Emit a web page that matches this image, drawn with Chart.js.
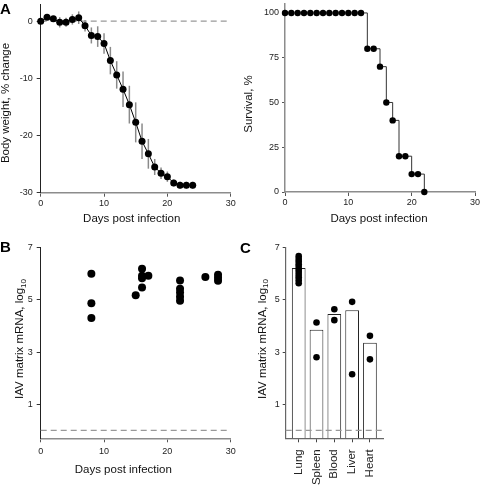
<!DOCTYPE html>
<html>
<head>
<meta charset="utf-8">
<script src="https://cdn.jsdelivr.net/npm/chart.js@4"></script>
<style>
  body { margin: 0; background: #fff; }
  #wrap { position: relative; width: 480px; height: 487px; }
  canvas { position: absolute; left: 0; top: 0; }
  .tag { position: absolute; font: bold 15px "Liberation Sans", Arial, sans-serif; line-height: 15px; color: #000; }
</style>
</head>
<body>
<div id="wrap">
  <canvas id="cA" width="480" height="487"></canvas>
  <canvas id="cS" width="480" height="487"></canvas>
  <canvas id="cB" width="480" height="487"></canvas>
  <canvas id="cC" width="480" height="487"></canvas>
  <div class="tag" style="left:0px;top:1px">A</div>
  <div class="tag" style="left:0px;top:238.5px">B</div>
  <div class="tag" style="left:240px;top:239.5px">C</div>
</div>
<script>
// panel A, body weight
const days = [0, 1, 2, 3, 4, 5, 6, 7, 8, 9, 10, 11, 12, 13, 14, 15, 16, 17, 18, 19, 20, 21, 22, 23, 24];
const weightMean = [0, 0.7, 0.4, -0.2, -0.2, 0.3, 0.6, -0.8, -2.5, -2.7, -3.9, -6.9, -9.4, -11.9, -14.6, -17.7, -21.0, -23.2, -25.5, -26.6, -27.2, -28.3, -28.7, -28.7, -28.7];
const weightSD = [0.2, 0.3, 0.5, 0.9, 0.8, 0.9, 1.1, 1.0, 1.4, 1.8, 1.8, 2.4, 2.4, 3.1, 3.3, 3.5, 3.1, 2.6, 1.4, 1.0, 0.9, 0.6, 0.6, 0.6, 0.6];
const weightTicks = [-30, -20, -10, 0];

// panel A, survival
const survivalDays = [0, 1, 2, 3, 4, 5, 6, 7, 8, 9, 10, 11, 12, 13, 14, 15, 16, 17, 18, 19, 20, 21, 22];
const survivalPct = [100, 100, 100, 100, 100, 100, 100, 100, 100, 100, 100, 100, 100, 80, 80, 70, 50, 40, 20, 20, 10, 10, 0];
const survivalTicks = [0, 25, 50, 75, 100];

const dayTicks = [0, 10, 20, 30];

// panel B, lung mRNA by day
const mrnaDays = [8, 8, 8, 15, 16, 16, 16, 16, 17, 22, 22, 22, 22, 22, 26, 28, 28, 28];
const mrnaValues = [6.0, 4.87, 4.3, 5.17, 6.19, 5.92, 5.82, 5.47, 5.92, 5.74, 5.42, 5.28, 5.12, 4.96, 5.87, 5.96, 5.84, 5.73];
const mrnaTicks = [1, 3, 5, 7];
const detectionLimit = 0;

// panel C, tissues
const tissues = ['Lung', 'Spleen', 'Blood', 'Liver', 'Heart'];
const tissueMeans = [6.22, 3.85, 4.46, 4.6, 3.36];
const lungSamples = [6.67, 6.56, 6.46, 6.36, 6.26, 6.16, 6.06, 5.96, 5.86, 5.75, 5.63];
const spleenSamples = [4.13, 2.8];
const bloodSamples = [4.64, 4.22];
const liverSamples = [4.92, 2.15];
const heartSamples = [3.62, 2.72];

const family = '"Liberation Sans", Arial, sans-serif';
const titleFont = '11.5px ' + family;
const subFont = '8px ' + family;
const Y_W = 30;

const axisTitles = {
  id: 'axisTitles',
  afterDraw(chart, args, opts) {
    const ctx = chart.ctx;
    ctx.save();
    ctx.fillStyle = '#111';
    ctx.textBaseline = 'middle';
    if (opts.x) {
      ctx.font = titleFont;
      ctx.textAlign = 'center';
      ctx.fillText(opts.x.text, opts.x.cx, opts.x.cy);
    }
    if (opts.y) {
      ctx.translate(opts.y.cx, opts.y.cy);
      ctx.rotate(-Math.PI / 2);
      ctx.font = titleFont;
      const w1 = ctx.measureText(opts.y.text).width;
      let w2 = 0;
      if (opts.y.sub) { ctx.font = subFont; w2 = ctx.measureText(opts.y.sub).width; }
      ctx.textAlign = 'left';
      ctx.font = titleFont;
      ctx.fillText(opts.y.text, -(w1 + w2) / 2, 0);
      if (opts.y.sub) {
        ctx.font = subFont;
        ctx.fillText(opts.y.sub, -(w1 + w2) / 2 + w1, 3.5);
      }
    }
    ctx.restore();
  }
};

const errorBars = {
  id: 'errorBars',
  beforeDatasetsDraw(chart) {
    const { ctx, scales: { x, y } } = chart;
    ctx.save();
    ctx.strokeStyle = '#8a8a8a';
    ctx.lineWidth = 1.5;
    days.forEach((d, i) => {
      const px = x.getPixelForValue(d);
      ctx.beginPath();
      ctx.moveTo(px, y.getPixelForValue(weightMean[i] - weightSD[i]));
      ctx.lineTo(px, y.getPixelForValue(weightMean[i] + weightSD[i]));
      ctx.stroke();
    });
    ctx.restore();
  }
};

function axis(o) {
  const ticks = { padding: o.padding, color: '#222', font: { family, size: o.fontSize || 9 },
    maxRotation: o.rotation || 0, minRotation: o.rotation || 0, autoSkip: false };
  if (o.callback) ticks.callback = o.callback;
  return {
    type: 'linear', min: o.min, max: o.max, offset: false,
    afterBuildTicks: s => { s.ticks = o.ticks.map(v => ({ value: v })); },
    afterFit: s => {
      if (s.isHorizontal()) s.height = o.boxH || 20; else s.width = Y_W;
      s.paddingTop = s.paddingBottom = s.paddingLeft = s.paddingRight = 0;
    },
    grid: { display: true, offset: false, drawOnChartArea: false, drawTicks: true, tickLength: o.tickLength, tickColor: o.tickColor || '#333', tickWidth: 1 },
    border: { display: true, color: o.color, width: o.width },
    ticks
  };
}

function pad(left, right, top, bottom, boxH) {
  return { left: left - Y_W, right: 480 - right, top: top, bottom: 487 - bottom - (boxH || 20) };
}

const common = {
  responsive: false,
  animation: false,
  events: [],
};

function dashed(x0, x1) {
  return {
    type: 'line',
    data: [{ x: x0, y: detectionLimit }, { x: x1, y: detectionLimit }],
    borderColor: '#999', borderWidth: 1.3, borderDash: [6, 4],
    pointRadius: 0, clip: false, order: 2
  };
}

// body weight
new Chart(document.getElementById('cA'), {
  type: 'line',
  data: {
    datasets: [
      {
        data: days.map((d, i) => ({ x: d, y: weightMean[i] })),
        borderColor: '#000', borderWidth: 1,
        pointRadius: 3.5, pointBackgroundColor: '#000', pointBorderWidth: 0,
        clip: false, order: 1
      },
      dashed(dayTicks[0], dayTicks[dayTicks.length - 1])
    ]
  },
  options: {
    ...common,
    layout: { padding: pad(40.7, 230.7, 2.4, 192.7) },
    plugins: {
      legend: { display: false }, tooltip: { enabled: false },
      axisTitles: { x: { text: 'Days post infection', cx: 131.7, cy: 219 },
                    y: { text: 'Body weight, % change', cx: 5.8, cy: 103 } }
    },
    scales: {
      x: axis({ min: 0, max: 30, ticks: dayTicks, tickLength: 4, padding: 1.3, color: '#8c8c8c', width: 1.5, tickColor: '#555' }),
      y: axis({ min: -30, max: 3, ticks: weightTicks, tickLength: 4, padding: 4, color: '#222', width: 1 })
    }
  },
  plugins: [errorBars, axisTitles]
});

// survival
new Chart(document.getElementById('cS'), {
  type: 'line',
  data: {
    datasets: [{
      data: survivalDays.map((d, i) => ({ x: d, y: survivalPct[i] })),
      borderColor: '#333', borderWidth: 1, stepped: 'before',
      pointRadius: 3.2, pointBackgroundColor: '#000', pointBorderWidth: 0,
      clip: false
    }]
  },
  options: {
    ...common,
    layout: { padding: pad(285, 475, 2.7, 192) },
    plugins: {
      legend: { display: false }, tooltip: { enabled: false },
      axisTitles: { x: { text: 'Days post infection', cx: 379, cy: 219 },
                    y: { text: 'Survival, %', cx: 249.2, cy: 104 } }
    },
    scales: {
      x: axis({ min: 0, max: 30, ticks: dayTicks, tickLength: 4, padding: 1, color: '#8c8c8c', width: 1.5, tickColor: '#555' }),
      y: axis({ min: 0, max: 105, ticks: survivalTicks, tickLength: 3, padding: 3, color: '#8c8c8c', width: 1.5, tickColor: '#555' })
    }
  },
  plugins: [axisTitles]
});

// B
new Chart(document.getElementById('cB'), {
  type: 'line',
  data: {
    datasets: [
      {
        data: mrnaDays.map((d, i) => ({ x: d, y: mrnaValues[i] })),
        showLine: false,
        pointRadius: 4, pointBackgroundColor: '#000', pointBorderWidth: 0,
        clip: false, order: 1
      },
      dashed(dayTicks[0], dayTicks[dayTicks.length - 1])
    ]
  },
  options: {
    ...common,
    layout: { padding: pad(40.7, 230.7, 247.5, 438.3) },
    plugins: {
      legend: { display: false }, tooltip: { enabled: false },
      axisTitles: { x: { text: 'Days post infection', cx: 123.3, cy: 470 },
                    y: { text: 'IAV matrix mRNA, log', sub: '10', cx: 20, cy: 339 } }
    },
    scales: {
      x: axis({ min: 0, max: 30, ticks: dayTicks, tickLength: 4, padding: 3.7, color: '#8c8c8c', width: 1.5, tickColor: '#555' }),
      y: axis({ min: -0.3, max: 7, ticks: mrnaTicks, tickLength: 4, padding: 4, color: '#222', width: 1 })
    }
  },
  plugins: [axisTitles]
});

// C
const tissueSamples = [lungSamples, spleenSamples, bloodSamples, liverSamples, heartSamples];
const tissueIdx = tissues.map((t, i) => i);
const cMin = -0.73, cMax = 4.75;
new Chart(document.getElementById('cC'), {
  type: 'bar',
  data: {
    datasets: [
      {
        type: 'bar',
        data: tissueIdx.map(i => ({ x: i, y: tissueMeans[i] })),
        base: -0.3,
        backgroundColor: '#fff', borderColor: '#222', borderWidth: 1,
        categoryPercentage: 1, barPercentage: 0.77,
        order: 3
      },
      dashed(cMin, cMax),
      {
        type: 'line',
        data: tissueSamples.flatMap((arr, i) => arr.map(v => ({ x: i, y: v }))),
        showLine: false,
        pointRadius: 3.3, pointBackgroundColor: '#000', pointBorderWidth: 0,
        clip: false, order: 1
      }
    ]
  },
  options: {
    ...common,
    layout: { padding: pad(285.7, 383.3, 247.5, 438.3, 48) },
    plugins: {
      legend: { display: false }, tooltip: { enabled: false },
      axisTitles: { y: { text: 'IAV matrix mRNA, log', sub: '10', cx: 262.4, cy: 339 } }
    },
    scales: {
      x: axis({ min: cMin, max: cMax, ticks: tissueIdx, tickLength: 4, padding: 7, color: '#666', width: 1.2,
                tickColor: '#444', rotation: 90, fontSize: 11.5, boxH: 48, callback: v => tissues[v] }),
      y: axis({ min: -0.3, max: 7, ticks: mrnaTicks, tickLength: 3, padding: 3, color: '#666', width: 1.2, tickColor: '#444' })
    }
  },
  plugins: [axisTitles]
});
</script>
</body>
</html>
